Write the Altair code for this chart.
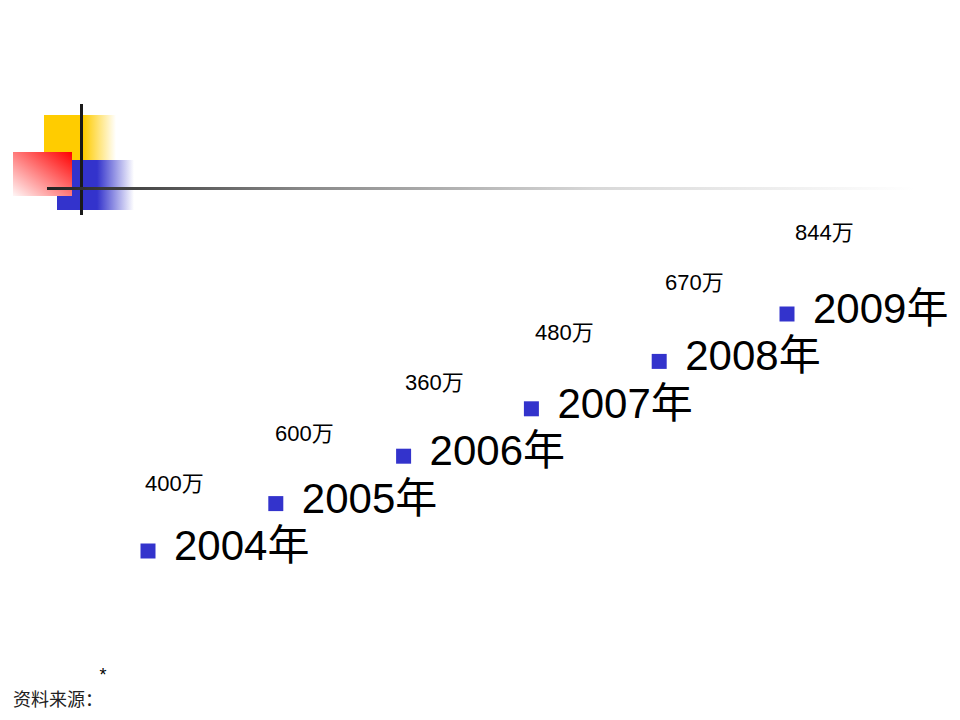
import pandas as pd
import altair as alt

# data
years = [2004, 2005, 2006, 2007, 2008, 2009]
values = [400, 600, 360, 480, 670, 844]
unit = "万"

df = pd.DataFrame({"year": years, "value": values})
df["year_label"] = df["year"].astype(str) + "年"
df["value_label"] = df["value"].astype(str) + unit

one = pd.DataFrame({"k": [0]})

# %% decoration in the top-left corner (slide template)
def grad(stops, x1=0, y1=0, x2=1, y2=0):
    return alt.Gradient(
        gradient="linear",
        stops=[alt.GradientStop(color=c, offset=o) for o, c in stops],
        x1=x1, y1=y1, x2=x2, y2=y2,
    )

def box(x, x2, y, y2, fill):
    return alt.Chart(one).mark_rect(color=fill).encode(
        x=alt.value(x - 8), x2=alt.value(x2 - 8),
        y=alt.value(y - 8), y2=alt.value(y2 - 8),
    )

yellow = box(44, 116, 115, 166, grad([(0, "#ffcc00"), (0.55, "#ffcc00"), (1, "#ffffff")]))
blue = box(57, 134, 160, 210, grad([(0, "#3333cc"), (0.52, "#3333cc"), (1, "#ffffff")]))
red = box(13, 72, 152, 196, grad([(0, "#ff0000"), (1, "#fff6f6")], x1=1, y1=0, x2=0, y2=1))
vline = box(80, 83, 104, 215, "#1a1a1a")
hline = box(47, 960, 187, 190, grad([(0, "#222222"), (0.28, "#888888"),
                                     (0.6, "#d8d8d8"), (0.95, "#ffffff")]))

# %% the year bullets
xs = alt.Scale(domain=[2004, 2009], range=[140, 779])
ys = alt.Scale(domain=[2004, 2009], range=[543, 306])

bullets = alt.Chart(df).mark_square(size=225, color="#3333cc", opacity=1).encode(
    x=alt.X("year:Q", scale=xs, axis=None),
    y=alt.Y("year:Q", scale=ys, axis=None),
)

year_text = alt.Chart(df).mark_text(
    align="left", baseline="alphabetic", dx=26, dy=9,
    fontSize=42, font="Liberation Sans, Noto Sans CJK SC", color="#000000",
).encode(
    x=alt.X("year:Q", scale=xs, axis=None),
    y=alt.Y("year:Q", scale=ys, axis=None),
    text="year_label:N",
)

# %% the value labels sit on their own diagonal
vx = alt.Scale(domain=[2004, 2009], range=[137, 787])
vy = alt.Scale(domain=[2004, 2009], range=[482.7, 231.7])

value_text = alt.Chart(df).mark_text(
    align="left", baseline="alphabetic",
    fontSize=22, font="Liberation Sans, Noto Sans CJK SC", color="#000000",
).encode(
    x=alt.X("year:Q", scale=vx, axis=None),
    y=alt.Y("year:Q", scale=vy, axis=None),
    text="value_label:N",
)

# %% footer
star = alt.Chart(one).mark_text(
    text="*", fontSize=18, font="Liberation Sans", align="center", baseline="top", color="#000000"
).encode(x=alt.value(103 - 8), y=alt.value(667 - 8))

source = alt.Chart(one).mark_text(
    text="资料来源：", fontSize=18, font="Noto Sans CJK SC", align="left",
    baseline="alphabetic", color="#222222",
).encode(x=alt.value(13 - 8), y=alt.value(706 - 8))

chart = alt.layer(
    yellow, blue, red, vline, hline,
    alt.layer(bullets, year_text),
    value_text,
    star, source,
).resolve_scale(x="independent", y="independent").properties(
    width=944, height=704, autosize=alt.AutoSizeParams(type="none"), padding=0,
    background="#ffffff",
).configure_view(stroke=None)

chart.save("out.html", embed_options={"renderer": "svg", "actions": False})
